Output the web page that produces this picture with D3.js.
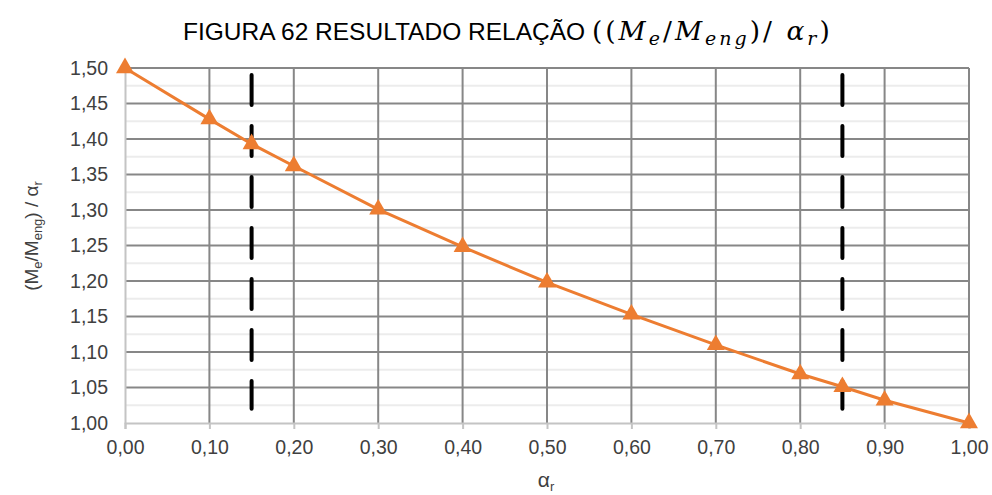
<!DOCTYPE html>
<html>
<head>
<meta charset="utf-8">
<script src="https://cdn.jsdelivr.net/npm/d3@7"></script>
<style>
  html, body { margin: 0; padding: 0; background: #ffffff; }
  svg { display: block; }
</style>
</head>
<body>
<svg id="chart" width="992" height="495"></svg>
<script>
// Relação (Me/Meng)/αr em função de αr
const alphaR = [0.00, 0.10, 0.15, 0.20, 0.30, 0.40, 0.50, 0.60, 0.70, 0.80, 0.85, 0.90, 1.00];
const ratio  = [1.500, 1.428, 1.393, 1.362, 1.301, 1.248, 1.198, 1.153, 1.110, 1.069, 1.051, 1.032, 1.000];

// Limites verticais tracejados
const limitX = [0.15, 0.85];
const limitY = [1.49, 1.02];

const xTicks = [0.0, 0.1, 0.2, 0.3, 0.4, 0.5, 0.6, 0.7, 0.8, 0.9, 1.0];
const yTicks = [1.00, 1.05, 1.10, 1.15, 1.20, 1.25, 1.30, 1.35, 1.40, 1.45, 1.50];
const yMinor = [1.025, 1.075, 1.125, 1.175, 1.225, 1.275, 1.325, 1.375, 1.425, 1.475];

const svg = d3.select("#chart");
const fmt = v => d3.format(".2f")(v).replace(".", ",");

const x = d3.scaleLinear().domain([0, 1]).range([125, 969]);
const y = d3.scaleLinear().domain([1, 1.5]).range([423, 68]);

const sans = "'Liberation Sans', Arial, sans-serif";
const serif = "'DejaVu Serif', 'Liberation Serif', serif";

// grade secundária
svg.append("g").selectAll("line").data(yMinor).join("line")
  .attr("x1", x(0)).attr("x2", x(1))
  .attr("y1", d => y(d)).attr("y2", d => y(d))
  .attr("stroke", "#ececec").attr("stroke-width", 2);

// grade principal horizontal
svg.append("g").selectAll("line").data(yTicks.filter(d => d > 1)).join("line")
  .attr("x1", x(0)).attr("x2", x(1))
  .attr("y1", d => y(d)).attr("y2", d => y(d))
  .attr("stroke", "#878787").attr("stroke-width", 2);

// grade principal vertical
svg.append("g").selectAll("line").data(xTicks.filter(d => d > 0)).join("line")
  .attr("x1", d => x(d)).attr("x2", d => x(d))
  .attr("y1", y(1.5)).attr("y2", y(1))
  .attr("stroke", "#878787").attr("stroke-width", 2);

// eixo inferior
const xAxis = svg.append("g").attr("transform", `translate(0,${y(1)})`)
  .call(d3.axisBottom(x).tickValues(xTicks).tickFormat(fmt).tickSize(6).tickPadding(11));
xAxis.select(".domain").attr("stroke", "#c4c4c4").attr("stroke-width", 2);
xAxis.selectAll(".tick line").attr("stroke", "#c4c4c4").attr("stroke-width", 2);
xAxis.selectAll(".tick text").attr("font-family", sans).attr("font-size", 19.5).attr("fill", "#404040");

// eixo esquerdo
const yAxis = svg.append("g").attr("transform", `translate(${x(0)},0)`)
  .call(d3.axisLeft(y).tickValues(yTicks).tickFormat(fmt).tickSize(0).tickPadding(17));
yAxis.select(".domain").attr("stroke", "#c4c4c4").attr("stroke-width", 2);
yAxis.selectAll(".tick text").attr("font-family", sans).attr("font-size", 19.5).attr("fill", "#404040");

// linhas tracejadas
svg.append("g").selectAll("line").data(limitX).join("line")
  .attr("x1", d => x(d)).attr("x2", d => x(d))
  .attr("y1", y(limitY[0])).attr("y2", y(limitY[1]))
  .attr("stroke", "#000").attr("stroke-width", 4)
  .attr("stroke-linecap", "round").attr("stroke-dasharray", "30 21");

// série
const pts = alphaR.map((a, i) => [a, ratio[i]]);
svg.append("path").datum(pts)
  .attr("fill", "none").attr("stroke", "#ED7D31").attr("stroke-width", 3)
  .attr("d", d3.line().x(d => x(d[0])).y(d => y(d[1])));

const tri = d3.symbol().type(d3.symbolTriangle).size(140);
svg.append("g").selectAll("path").data(pts).join("path")
  .attr("d", tri)
  .attr("transform", d => `translate(${x(d[0])},${y(d[1])})`)
  .attr("fill", "#ED7D31");

// título
const title = svg.append("text").attr("x", 183).attr("y", 40)
  .attr("font-family", sans).attr("font-size", 24.5).attr("fill", "#000");
title.append("tspan").text("FIGURA 62 RESULTADO RELAÇÃO ");
const m = title.append("tspan").attr("font-family", serif).attr("font-size", 26.5)
  .attr("letter-spacing", 3);
m.append("tspan").text("((");
m.append("tspan").attr("font-style", "italic").text("M");
m.append("tspan").attr("font-style", "italic").attr("font-size", 19).attr("dy", 5).text("e");
m.append("tspan").attr("dy", -5).text("/");
m.append("tspan").attr("font-style", "italic").text("M");
m.append("tspan").attr("font-style", "italic").attr("font-size", 19).attr("dy", 5).text("eng");
m.append("tspan").attr("dy", -5).text(")/ ");
m.append("tspan").attr("font-style", "italic").text("α");
m.append("tspan").attr("font-style", "italic").attr("font-size", 19).attr("dy", 5).text("r");
m.append("tspan").attr("dy", -5).text(")");

// rótulo do eixo y
const yl = svg.append("text")
  .attr("transform", "translate(38,236) rotate(-90)")
  .attr("text-anchor", "middle")
  .attr("font-family", sans).attr("font-size", 19).attr("fill", "#404040");
yl.append("tspan").text("(M");
yl.append("tspan").attr("font-size", 13).attr("dy", 4).text("e");
yl.append("tspan").attr("dy", -4).text("/M");
yl.append("tspan").attr("font-size", 13).attr("dy", 4).text("eng");
yl.append("tspan").attr("dy", -4).text(") / α");
yl.append("tspan").attr("font-size", 13).attr("dy", 4).text("r");

// rótulo do eixo x
const xl = svg.append("text").attr("x", 546).attr("y", 487)
  .attr("text-anchor", "middle")
  .attr("font-family", sans).attr("font-size", 21).attr("fill", "#404040");
xl.append("tspan").text("α");
xl.append("tspan").attr("font-size", 13).attr("dy", 4).text("r");
</script>
</body>
</html>
